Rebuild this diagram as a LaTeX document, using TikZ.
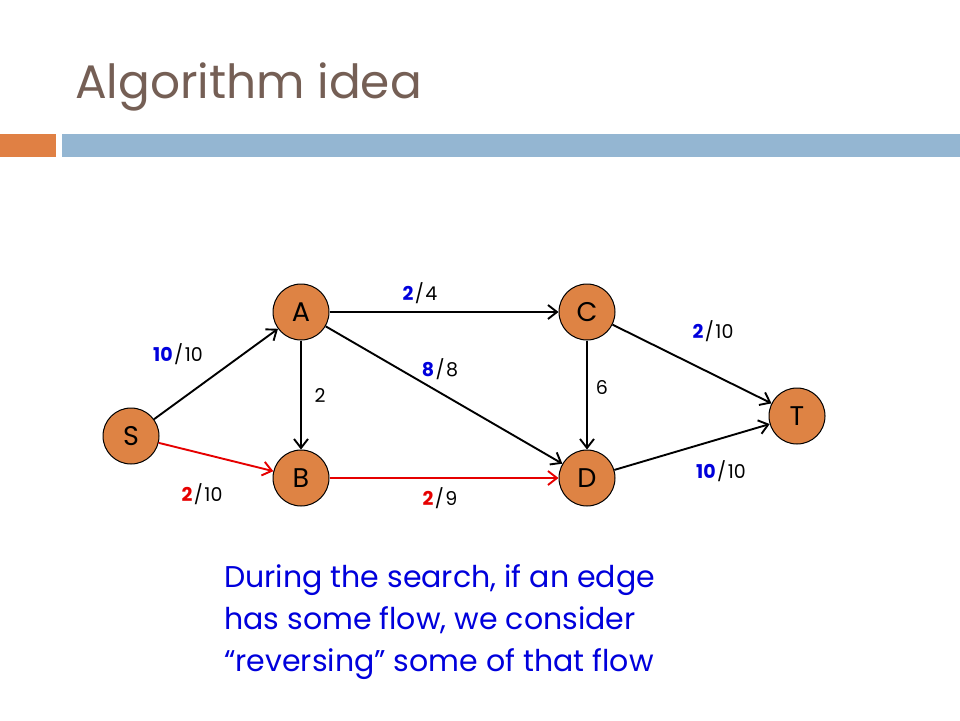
\documentclass[tikz,border=0pt]{standalone}
\usepackage{fontspec}
\setmainfont{Poppins}
\usetikzlibrary{arrows.meta}
\definecolor{titlec}{RGB}{117,95,85}
\definecolor{orangebar}{RGB}{224,128,68}
\definecolor{bluebar}{RGB}{148,182,210}
\definecolor{nodefill}{RGB}{222,131,68}
\definecolor{flowblue}{RGB}{0,0,220}
\definecolor{flowred}{RGB}{230,0,0}
\newcommand{\fl}[3]{\textcolor{#1}{\textbf{#2}}\kern1.5pt/\kern1.5pt#3}
\tikzset{
  vert/.style={circle,draw=black,line width=1pt,fill=nodefill,minimum size=56pt,inner sep=0pt,font=\fontsize{27}{27}\selectfont},
  edge/.style={line width=1.9pt,-{Straight Barb[length=9pt,width=14pt,line width=1.9pt]}},
  redge/.style={edge,draw=flowred},
  lab/.style={font=\fontsize{19}{19}\selectfont,inner sep=0pt}
}
\begin{document}
\begin{tikzpicture}[x=1pt,y=-1pt]
\useasboundingbox (0,0) rectangle (960,720);
\fill[white] (0,0) rectangle (960,720);
\node[anchor=base west,inner sep=0pt,text=titlec,font=\fontsize{47}{47}\selectfont] (title) at (75,98) {Algorithm idea};
\fill[orangebar] (0,134) rectangle (56,157);
\fill[bluebar] (62,134) rectangle (960,157);
\node[vert] (A) at (301,312) {A};
\node[vert] (C) at (587,312) {C};
\node[vert] (S) at (131,436) {S};
\node[vert] (B) at (301,478) {B};
\node[vert] (D) at (587,478) {D};
\node[vert] (T) at (797,416) {T};
\draw[edge] (S) -- (A);
\draw[redge] (S) -- (B);
\draw[edge] (A) -- (B);
\draw[edge] (A) -- (C);
\draw[edge] (A) -- (D);
\draw[redge] (B) -- (D);
\draw[edge] (C) -- (D);
\draw[edge] (C) -- (T);
\draw[edge] (D) -- (T);
\node[lab] (lAC) at (420,293) {\fl{flowblue}{2}{4}};
\node[lab] (lSA) at (178,354) {\fl{flowblue}{10}{10}};
\node[lab] (lAD) at (440,369) {\fl{flowblue}{8}{8}};
\node[lab] (lAB) at (320,396) {2};
\node[lab] (lCD) at (602,388) {6};
\node[lab] (lCT) at (713,331) {\fl{flowblue}{2}{10}};
\node[lab] (lDT) at (721,471) {\fl{flowblue}{10}{10}};
\node[lab] (lSB) at (202,494) {\fl{flowred}{2}{10}};
\node[lab] (lBD) at (440,498) {\fl{flowred}{2}{9}};
\node[anchor=base west,inner sep=0pt,text=flowblue,align=left,font=\fontsize{30}{42}\selectfont] (txt) at (224,671) {During the search, if an edge\\has some flow, we consider\\``reversing'' some of that flow};
\end{tikzpicture}
\end{document}
